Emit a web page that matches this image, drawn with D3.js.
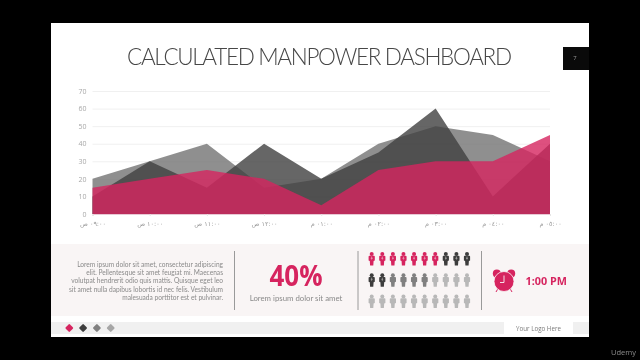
<!DOCTYPE html>
<html>
<head>
<meta charset="utf-8">
<script src="https://cdn.jsdelivr.net/npm/d3@7"></script>
<style>
  html, body { margin: 0; padding: 0; background: #000; overflow: hidden; }
  svg { display: block; filter: blur(0.4px); } /* the reference is a soft video frame */
</style>
</head>
<body>
<div id="chart"></div>
<script>
/* DATA */
const hours = ["٠٩:٠٠ ص", "١٠:٠٠ ص", "١١:٠٠ ص", "١٢:٠٠ ص", "٠١:٠٠ م", "٠٢:٠٠ م", "٠٣:٠٠ م", "٠٤:٠٠ م", "٠٥:٠٠ م"];
const greySeries = [20, 30, 40, 15, 20, 40, 50, 45, 30];
const darkSeries = [10, 30, 15, 40, 20, 35, 60, 10, 40];
const pinkSeries = [15, 20, 25, 20, 5, 25, 30, 30, 45];
const yTicks = [0, 10, 20, 30, 40, 50, 60, 70];

const paragraph = [
  "Lorem ipsum dolor sit amet, consectetur adipiscing",
  "elit. Pellentesque sit amet feugiat mi. Maecenas",
  "volutpat hendrerit odio quis mattis. Quisque eget leo",
  "sit amet nulla dapibus lobortis id nec felis. Vestibulum",
  "malesuada porttitor est et pulvinar."
];
const peopleRows = [
  ["pink", "pink", "pink", "pink", "pink", "pink", "pink", "dark", "dark", "dark"],
  ["dark", "dark", "mid", "mid", "mid", "mid", "light", "light", "light", "light"],
  ["light", "light", "light", "light", "light", "light", "light", "light", "light", "light"]
];
const diamondKeys = ["pink", "dark", "mid", "light"];

const colors = { pink: "#d6245f", dark: "#3d3d3d", mid: "#808080", light: "#b8b8b8" };

const svg = d3.select("#chart").append("svg")
  .attr("width", 640)
  .attr("height", 360);

// black video frame + white slide
svg.append("rect").attr("width", 640).attr("height", 360).attr("fill", "#000");
svg.append("rect").attr("x", 51).attr("y", 23).attr("width", 538).attr("height", 314).attr("fill", "#fff");

// page number tag
svg.append("rect").attr("x", 563).attr("y", 47).attr("width", 26).attr("height", 23).attr("fill", "#0a0a0a");
svg.append("text").attr("x", 575).attr("y", 60).attr("text-anchor", "middle")
  .attr("font-family", "Open Sans").attr("font-size", 6).attr("fill", "#999").text("7");

// title
svg.append("text")
  .attr("x", 127).attr("y", 65)
  .attr("font-family", "Lato").attr("font-weight", 300).attr("font-size", 22.5)
  .attr("fill", "#474747")
  .attr("textLength", 385).attr("lengthAdjust", "spacing")
  .text("CALCULATED MANPOWER DASHBOARD");

/* SCALES AND AXES */
const xScale = d3.scalePoint().domain(hours).range([92.5, 550]);
const yScale = d3.scaleLinear().domain([0, 70]).range([214, 91]);

const yAxis = d3.axisLeft(yScale).tickValues(yTicks).tickSize(-457.5).tickPadding(6);
const yG = svg.append("g").attr("transform", "translate(92.5,0)").call(yAxis);
yG.select(".domain").remove();
yG.selectAll(".tick line").attr("stroke", "#f0f0f0");
yG.selectAll("text").attr("font-family", "Open Sans").attr("font-size", 7).attr("fill", "#a8a8a8");

const xAxis = d3.axisBottom(xScale).tickSize(2).tickPadding(5);
const xG = svg.append("g").attr("transform", "translate(0,214)").call(xAxis);
xG.select(".domain").attr("stroke", "#e8c8d4");
xG.selectAll(".tick line").attr("stroke", "#e6e6e6");
xG.selectAll("text").attr("font-family", "DejaVu Sans").attr("font-size", 6.5).attr("fill", "#9a9a9a");

/* AREAS */
const area = d3.area()
  .x((d, i) => xScale(hours[i]))
  .y0(yScale(0))
  .y1(d => yScale(d));

svg.append("path").datum(greySeries).attr("d", area).attr("fill", "#737373").attr("fill-opacity", 0.8);
svg.append("path").datum(darkSeries).attr("d", area).attr("fill", "#404040").attr("fill-opacity", 0.8);
svg.append("path").datum(pinkSeries).attr("d", area).attr("fill", colors.pink).attr("fill-opacity", 0.8);

/* BOTTOM STRIP */
svg.append("rect").attr("x", 51).attr("y", 244).attr("width", 538).attr("height", 72).attr("fill", "#f9f5f5");

svg.selectAll(".divider")
  .data([234.5, 358, 481.5])
  .join("line")
  .attr("class", "divider")
  .attr("x1", d => d).attr("x2", d => d)
  .attr("y1", 251).attr("y2", 310)
  .attr("stroke", "#9a9a9a").attr("stroke-width", 1);

svg.selectAll(".para")
  .data(paragraph)
  .join("text")
  .attr("class", "para")
  .attr("x", 223)
  .attr("y", (d, i) => 266.5 + i * 8.35)
  .attr("text-anchor", "end")
  .attr("font-family", "Lato").attr("font-size", 6.6)
  .attr("fill", "#8a8a8a")
  .text(d => d);

svg.append("text").attr("x", 296).attr("y", 285.5).attr("text-anchor", "middle")
  .attr("font-family", "Open Sans").attr("font-weight", 700).attr("font-size", 28)
  .attr("fill", colors.pink).attr("textLength", 53).attr("lengthAdjust", "spacingAndGlyphs").text("40%");
svg.append("text").attr("x", 296).attr("y", 301).attr("text-anchor", "middle")
  .attr("font-family", "Lato").attr("font-size", 7.8)
  .attr("fill", "#8a8a8a").text("Lorem ipsum dolor sit amet");

/* PEOPLE ICONS */
const peopleX = d3.scalePoint().domain(d3.range(10)).range([371.7, 467]);
const peopleY = d3.scalePoint().domain(d3.range(3)).range([259, 301.5]);

function drawPerson(g, color, withTie) {
  g.append("circle").attr("cx", 0).attr("cy", -5).attr("r", 2).attr("fill", color);
  g.append("path")
    .attr("d", "M-3.1,-2.6 Q-3.1,-3.2 -2.2,-3.2 L2.2,-3.2 Q3.1,-3.2 3.1,-2.6 L3.1,1.5 L1.9,2 L1.6,6.5 L-1.6,6.5 L-1.9,2 L-3.1,1.5 Z")
    .attr("fill", color);
  if (withTie) {
    g.append("path").attr("d", "M0,-3 L0.8,-0.8 L0,1 L-0.8,-0.8 Z").attr("fill", "#f9f5f5").attr("fill-opacity", 0.5);
  }
}

peopleRows.forEach((row, r) => {
  row.forEach((key, c) => {
    const g = svg.append("g").attr("transform", `translate(${peopleX(c)},${peopleY(r)})`);
    drawPerson(g, colors[key], key === "pink" || key === "dark");
  });
});

/* CLOCK */
const clock = svg.append("g").attr("transform", "translate(504,281.5)");
clock.append("circle").attr("cx", -7.2).attr("cy", -8).attr("r", 4).attr("fill", colors.pink);
clock.append("circle").attr("cx", 7.2).attr("cy", -8).attr("r", 4).attr("fill", colors.pink);
clock.append("line").attr("x1", -6).attr("y1", 7).attr("x2", -8).attr("y2", 10.5).attr("stroke", colors.pink).attr("stroke-width", 1);
clock.append("line").attr("x1", 6).attr("y1", 7).attr("x2", 8).attr("y2", 10.5).attr("stroke", colors.pink).attr("stroke-width", 1);
clock.append("circle").attr("r", 10).attr("fill", colors.pink).attr("stroke", "#f9f5f5").attr("stroke-width", 0.8);
clock.append("path").attr("d", "M0,-6 L0,1 L-4,1").attr("fill", "none").attr("stroke", "#f9f5f5").attr("stroke-width", 0.9);

svg.append("text").attr("x", 525.5).attr("y", 285)
  .attr("font-family", "Open Sans").attr("font-weight", 700).attr("font-size", 10.8)
  .attr("fill", colors.pink).text("1:00 PM");

/* FOOTER */
svg.append("rect").attr("x", 51).attr("y", 322).attr("width", 538).attr("height", 12).attr("fill", "#f0f0f0");
svg.append("rect").attr("x", 504).attr("y", 322).attr("width", 69).attr("height", 12).attr("fill", "#fff");
svg.append("text").attr("x", 538.5).attr("y", 330.5).attr("text-anchor", "middle")
  .attr("font-family", "Open Sans").attr("font-size", 6.2).attr("fill", "#7a7a7a").text("Your Logo Here");

const diamondX = d3.scalePoint().domain(diamondKeys).range([69.3, 110.7]);
svg.selectAll(".diamond")
  .data(diamondKeys)
  .join("rect")
  .attr("class", "diamond")
  .attr("x", -3).attr("y", -3)
  .attr("width", 6).attr("height", 6).attr("rx", 1)
  .attr("transform", d => `translate(${diamondX(d)},328) rotate(45)`)
  .attr("fill", d => d === "light" ? "#a6a6a6" : colors[d]);

// watermark in the video frame
svg.append("text").attr("x", 636).attr("y", 355).attr("text-anchor", "end")
  .attr("font-family", "Open Sans").attr("font-size", 7.5).attr("fill", "#8c8c8c").text("Udemy");
</script>
</body>
</html>
